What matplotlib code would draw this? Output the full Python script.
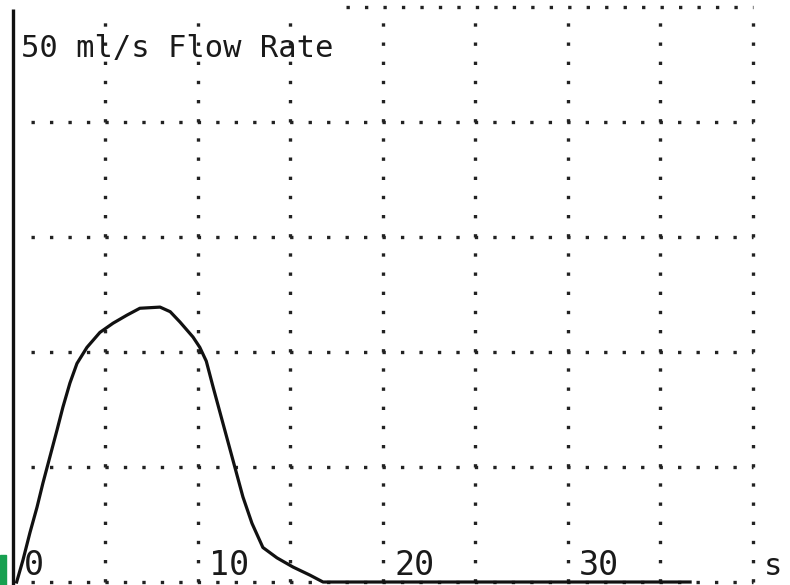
import numpy as np
import matplotlib.pyplot as plt
from matplotlib.patches import Rectangle

plt.rcParams['lines.scale_dashes'] = False

# --- data (time in s, flow in ml/s) ---
time_s = [0.2, 0.54, 0.92, 1.3, 1.62, 2.0, 2.38, 2.7, 3.08, 3.46, 4.0, 4.7,
          5.41, 6.16, 6.86, 7.95, 8.5, 9.03, 9.73, 10.1, 10.45, 10.81, 11.35,
          11.89, 12.43, 12.92, 13.51, 14.27, 15.14, 16.05, 16.76, 36.6]
flow_mls = [0.0, 1.9, 4.3, 6.5, 8.6, 10.9, 13.2, 15.2, 17.3, 19.0, 20.4,
            21.7, 22.5, 23.2, 23.8, 23.9, 23.5, 22.6, 21.3, 20.4, 19.2, 17.0,
            13.8, 10.6, 7.4, 5.1, 3.0, 2.1, 1.3, 0.6, 0.0, 0.0]

x_ticks = [0, 10, 20, 30]
x_grid = [5, 10, 15, 20, 25, 30, 35, 40]
y_grid = [0, 10, 20, 30, 40]
title_text = "50 ml/s Flow Rate"
unit_text = "s"

fig = plt.figure(figsize=(7.9, 5.85), dpi=100)
ax = fig.add_axes([0, 0, 1, 1])
ax.set_xlim(-0.70, 42.0)
ax.set_ylim(-0.26, 50.6)
ax.axis('off')

dot_kw = dict(color='#222222', linewidth=2.4, zorder=1)
ax.vlines(x_grid, 0, 50, linestyle=(0, (2.4, 11.4)), **dot_kw)
ax.hlines(y_grid, 1.0, 40, linestyle=(0, (2.4, 10.9)), **dot_kw)
ax.hlines(50, 18.0, 40, linestyle=(0, (2.4, 10.9)), **dot_kw)

# left axis line
ax.vlines(0, -0.26, 49.8, color='#111111', linewidth=2.4, zorder=3)

# flow trace
ax.plot(time_s, flow_mls, color='#111111', linewidth=2.3, zorder=4,
        solid_joinstyle='round')

font = dict(family='DejaVu Sans Mono', color='#1a1a1a')
ax.text(0.45, 45.65, title_text, fontsize=22, va='baseline', ha='left', **font)
for t in x_ticks:
    ax.text(t + 0.6, 0.6, str(t), fontsize=24, va='baseline', ha='left', **font)
ax.text(40.6, 0.6, unit_text, fontsize=22, va='baseline', ha='left', **font)

# small green scan mark at the bottom-left corner
fig.patches.append(Rectangle((0, 0), 6 / 790, 30 / 585, transform=fig.transFigure,
                             color='#17a050', zorder=5))

fig.savefig('out.png', dpi=100, facecolor='white')
